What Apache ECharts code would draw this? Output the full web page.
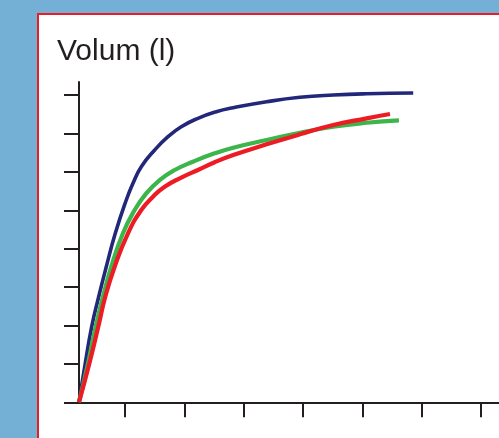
<!DOCTYPE html>
<html>
<head>
<meta charset="utf-8">
<script src="https://cdn.jsdelivr.net/npm/echarts@6/dist/echarts.min.js"></script>
<style>
html,body{margin:0;padding:0;background:#74b0d5;}
#c{width:499px;height:438px;}
</style>
</head>
<body>
<div id="c"></div>
<script>
var titleText = 'Volum (l)';
var xTicks = [1, 2, 3, 4, 5, 6, 7];
var yTicks = [0, 1, 2, 3, 4, 5, 6, 7, 8];

var blueData = [
  [0.225, 0], [0.326, 0.971], [0.439, 1.968], [0.557, 2.749], [0.685, 3.53],
  [0.837, 4.4], [1.022, 5.267], [1.135, 5.702], [1.275, 6.134], [1.501, 6.569],
  [1.725, 6.915], [1.949, 7.175], [2.23, 7.394], [2.539, 7.566], [2.825, 7.67],
  [3.388, 7.826], [3.95, 7.941], [4.511, 8.001], [5.074, 8.034], [5.859, 8.053]
];
var greenData = [
  [0.225, 0], [0.371, 0.971], [0.506, 1.968], [0.629, 2.749], [0.769, 3.53],
  [0.966, 4.4], [1.163, 5.006], [1.359, 5.441], [1.585, 5.788], [1.838, 6.048],
  [2.146, 6.264], [2.512, 6.483], [2.825, 6.63], [3.388, 6.829], [3.95, 7.019],
  [4.511, 7.175], [5.074, 7.279], [5.618, 7.342]
];
var redData = [
  [0.225, 0], [0.393, 0.971], [0.55, 1.968], [0.668, 2.749], [0.826, 3.53],
  [1.051, 4.4], [1.275, 5.006], [1.472, 5.353], [1.669, 5.613], [1.949, 5.85],
  [2.23, 6.048], [2.512, 6.25], [2.825, 6.438], [3.388, 6.717], [3.95, 6.977],
  [4.511, 7.219], [5.074, 7.394], [5.467, 7.506]
];

var chart = echarts.init(document.getElementById('c'), null, {renderer: 'canvas'});
var axisColor = '#231f20';
chart.setOption({
  animation: false,
  backgroundColor: '#74b0d5',
  graphic: [{
    type: 'rect', z: -10, silent: true,
    shape: {x: 38, y: 14, width: 520, height: 480},
    style: {fill: '#ffffff', stroke: '#ed1c24', lineWidth: 2}
  }],
  title: {
    text: titleText, left: 57, top: 37, padding: 0,
    textStyle: {fontFamily: 'Liberation Sans', fontSize: 30, fontWeight: 'normal', color: axisColor}
  },
  grid: {left: 79, right: 0, top: 82, bottom: 35.7},
  xAxis: {
    type: 'value', min: 0.225, max: 7.305,
    axisLine: {show: true, lineStyle: {color: axisColor, width: 2}},
    axisTick: {show: true, customValues: xTicks, length: 15, lineStyle: {color: axisColor, width: 2}},
    axisLabel: {show: false},
    splitLine: {show: false}
  },
  yAxis: {
    type: 'value', min: 0, max: 8.34,
    axisLine: {show: true, lineStyle: {color: axisColor, width: 2}},
    axisTick: {show: true, customValues: yTicks, length: 15, lineStyle: {color: axisColor, width: 2}},
    axisLabel: {show: false},
    splitLine: {show: false}
  },
  series: [
    {type: 'line', data: blueData, smooth: 0.5, symbol: 'none', lineStyle: {color: '#23277a', width: 3.6}},
    {type: 'line', data: greenData, smooth: 0.5, symbol: 'none', lineStyle: {color: '#3cb54a', width: 4.2}},
    {type: 'line', data: redData, smooth: 0.5, symbol: 'none', lineStyle: {color: '#ed1c24', width: 4.2}}
  ]
});
</script>
</body>
</html>
